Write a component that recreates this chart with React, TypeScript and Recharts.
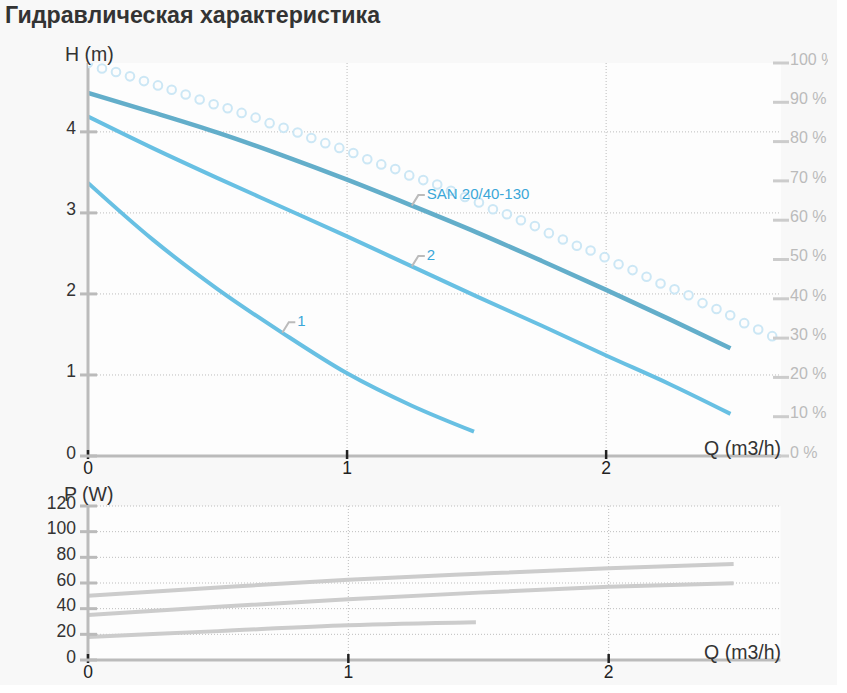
import React from 'react';
import { LineChart, Line, XAxis, YAxis, CartesianGrid, ReferenceDot } from 'recharts';

const FONT = '"Liberation Sans", Arial, Helvetica, sans-serif';

// ---- Hydraulic curves H(Q) ----
const qCurve1 = [0, 0.25, 0.5, 0.75, 1.0, 1.25, 1.49];
const hCurve1 = [3.37, 2.67, 2.06, 1.52, 1.02, 0.62, 0.3];
const qCurve2 = [0, 0.25, 0.5, 0.75, 1.0, 1.25, 1.5, 1.75, 2.0, 2.25, 2.48];
const hCurve2 = [4.19, 3.8, 3.43, 3.07, 2.71, 2.34, 1.97, 1.61, 1.24, 0.88, 0.52];
const qSan = [0, 0.25, 0.5, 0.75, 1.0, 1.25, 1.5, 1.75, 2.0, 2.25, 2.48];
const hSan = [4.48, 4.24, 3.99, 3.71, 3.41, 3.09, 2.76, 2.41, 2.05, 1.68, 1.33];

// ---- Efficiency (%) ----
const qEff = [
  0, 0.054, 0.108, 0.162, 0.216, 0.27, 0.323, 0.377, 0.431, 0.485,
  0.539, 0.593, 0.647, 0.701, 0.755, 0.809, 0.862, 0.916, 0.97, 1.024,
  1.078, 1.132, 1.186, 1.24, 1.294, 1.348, 1.401, 1.455, 1.509, 1.563,
  1.617, 1.671, 1.725, 1.779, 1.833, 1.887, 1.94, 1.994, 2.048, 2.102,
  2.156, 2.21, 2.264, 2.318, 2.372, 2.426, 2.479, 2.533, 2.587, 2.641,
];
const effValues = [
  100, 98.6, 97.7, 96.6, 95.4, 94.3, 93.2, 92.0, 90.7, 89.5,
  88.5, 87.3, 86.1, 84.7, 83.5, 82.3, 80.9, 79.6, 78.4, 77.1,
  75.5, 74.2, 73.0, 71.4, 70.2, 69.1, 67.5, 65.9, 64.5, 62.8,
  61.5, 60.0, 58.5, 56.7, 55.1, 53.5, 52.3, 50.6, 48.8, 47.3,
  45.6, 43.9, 42.4, 40.9, 38.9, 37.4, 35.8, 33.8, 32.2, 30.5,
];

// ---- Power P(Q) ----
const qPowerLong = [0, 0.5, 1.0, 1.5, 2.0, 2.48];
const pSan = [50, 56.5, 62.5, 67.2, 71.5, 74.8];
const pCurve2 = [35, 41.5, 47.3, 52.5, 57, 59.8];
const qPowerShort = [0, 0.5, 1.0, 1.49];
const pCurve1 = [18, 22.5, 27, 29.4];

// ---- Ticks / labels ----
const qTicks = [0, 1, 2];
const hTicks = [0, 1, 2, 3, 4];
const effTicks = [0, 10, 20, 30, 40, 50, 60, 70, 80, 90, 100];
const pTicks = [0, 20, 40, 60, 80, 100, 120];
const titleText = 'Гидравлическая характеристика';
const curveNames = ['SAN 20/40-130', '2', '1'];
const labelIndex = [5, 5, 3];

const zip = (qs: number[], vs: number[], key: string) => qs.map((q, i) => ({ q, [key]: vs[i] }));

const sanData = zip(qSan, hSan, 'h');
const c2Data = zip(qCurve2, hCurve2, 'h');
const c1Data = zip(qCurve1, hCurve1, 'h');
const effData = zip(qEff, effValues, 'e');
const pSanData = zip(qPowerLong, pSan, 'p');
const p2Data = zip(qPowerLong, pCurve2, 'p');
const p1Data = zip(qPowerShort, pCurve1, 'p');

const SAN_COLOR = '#63aeca';
const CURVE_COLOR = '#68c0e3';
const EFF_COLOR = '#cce7f5';
const POWER_COLOR = '#cccccc';
const GRID = '#bdbdbd';
const AXIS = '#bbbbbb';

const XTick = (props: any) => {
  const { x, y, payload } = props;
  return (
    <g>
      <line x1={x} y1={y - 6} x2={x} y2={y + 3} stroke="#222" strokeWidth={2.5} />
      <text x={x} y={y + 17.5} textAnchor="middle" fontSize={17.5} fill="#222" fontFamily={FONT}>
        {payload.value}
      </text>
    </g>
  );
};

const LeftTick = (props: any) => {
  const { x, y, payload } = props;
  return (
    <g>
      <line x1={x - 8} y1={y} x2={x + 9} y2={y} stroke={AXIS} strokeWidth={3} />
      <text x={x - 12} y={y + 2.5} textAnchor="end" fontSize={17.5} fill="#333" fontFamily={FONT}>
        {payload.value}
      </text>
    </g>
  );
};

const RightTick = (props: any) => {
  const { x, y, payload } = props;
  return (
    <g>
      <line x1={x - 8} y1={y} x2={x + 8} y2={y} stroke="#cccccc" strokeWidth={3} />
      <text x={x + 9} y={y + 1.7} textAnchor="start" fontSize={16} fill="#bbbbbb" fontFamily={FONT}>
        {`${payload.value} %`}
      </text>
    </g>
  );
};

const CurveTag = ({ cx, cy, text }: { cx: number; cy: number; text: string }) => (
  <g>
    <polyline
      points={`${cx},${cy} ${cx + 6.5},${cy - 10.5} ${cx + 13},${cy - 10.5}`}
      fill="none"
      stroke="#bbbbbb"
      strokeWidth={2}
    />
    <text x={cx + 15} y={cy - 6.5} fontSize={15} fill="#3ba7d8" fontFamily={FONT}>
      {text}
    </text>
  </g>
);

const W = 828;

export default function App() {
  return (
    <div
      style={{
        position: 'absolute',
        left: 0,
        top: 0,
        width: 837,
        height: 685,
        background: '#f8f8f8',
        overflow: 'hidden',
        fontFamily: FONT,
      }}
    >
      <div style={{ position: 'absolute', left: 0, top: 0 }}>
        <LineChart width={W} height={480} margin={{ top: 63, right: 0, bottom: 0, left: 0 }}>
          <CartesianGrid
            yAxisId="h"
            stroke={GRID}
            strokeDasharray="1 2"
            fill="#fdfdfd"
            horizontalValues={hTicks}
            verticalValues={qTicks}
          />
          <XAxis
            type="number"
            dataKey="q"
            domain={[0, 2.675]}
            ticks={qTicks}
            height={24}
            axisLine={{ stroke: AXIS, strokeWidth: 3 }}
            tickLine={false}
            tickSize={0}
            tickMargin={0}
            tick={<XTick />}
            allowDataOverflow
          />
          <YAxis
            yAxisId="h"
            type="number"
            domain={[0, 4.85]}
            ticks={hTicks}
            width={88}
            axisLine={{ stroke: AXIS, strokeWidth: 3 }}
            tickLine={false}
            tickSize={0}
            tickMargin={0}
            tick={<LeftTick />}
            allowDataOverflow
          />
          <YAxis
            yAxisId="e"
            orientation="right"
            type="number"
            domain={[0, 100]}
            ticks={effTicks}
            width={47}
            axisLine={false}
            tickLine={false}
            tickSize={0}
            tickMargin={0}
            tick={<RightTick />}
            allowDataOverflow
          />
          <Line
            yAxisId="e"
            data={effData}
            dataKey="e"
            stroke="none"
            dot={{ r: 4.3, stroke: EFF_COLOR, strokeWidth: 2, fill: '#fdfdfd' }}
            activeDot={false}
            isAnimationActive={false}
          />
          <Line
            yAxisId="h"
            data={c1Data}
            dataKey="h"
            type="monotone"
            stroke={CURVE_COLOR}
            strokeWidth={4}
            dot={false}
            activeDot={false}
            isAnimationActive={false}
          />
          <Line
            yAxisId="h"
            data={c2Data}
            dataKey="h"
            type="monotone"
            stroke={CURVE_COLOR}
            strokeWidth={4}
            dot={false}
            activeDot={false}
            isAnimationActive={false}
          />
          <Line
            yAxisId="h"
            data={sanData}
            dataKey="h"
            type="monotone"
            stroke={SAN_COLOR}
            strokeWidth={4.5}
            dot={false}
            activeDot={false}
            isAnimationActive={false}
          />
          <ReferenceDot
            yAxisId="h"
            x={qSan[labelIndex[0]]}
            y={hSan[labelIndex[0]]}
            r={0}
            shape={(p: any) => <CurveTag cx={p.cx} cy={p.cy} text={curveNames[0]} />}
          />
          <ReferenceDot
            yAxisId="h"
            x={qCurve2[labelIndex[1]]}
            y={hCurve2[labelIndex[1]]}
            r={0}
            shape={(p: any) => <CurveTag cx={p.cx} cy={p.cy} text={curveNames[1]} />}
          />
          <ReferenceDot
            yAxisId="h"
            x={qCurve1[labelIndex[2]]}
            y={hCurve1[labelIndex[2]]}
            r={0}
            shape={(p: any) => <CurveTag cx={p.cx} cy={p.cy} text={curveNames[2]} />}
          />
        </LineChart>
      </div>

      <div style={{ position: 'absolute', left: 0, top: 480 }}>
        <LineChart width={W} height={205} margin={{ top: 26, right: 47.5, bottom: 0, left: 0 }}>
          <CartesianGrid
            stroke={GRID}
            strokeDasharray="1 2"
            fill="#fdfdfd"
            horizontalValues={pTicks}
            verticalValues={qTicks}
          />
          <XAxis
            type="number"
            dataKey="q"
            domain={[0, 2.66]}
            ticks={qTicks}
            height={25}
            axisLine={{ stroke: AXIS, strokeWidth: 3 }}
            tickLine={false}
            tickSize={0}
            tickMargin={0}
            tick={<XTick />}
            allowDataOverflow
          />
          <YAxis
            type="number"
            domain={[0, 120]}
            ticks={pTicks}
            width={88}
            axisLine={{ stroke: AXIS, strokeWidth: 3 }}
            tickLine={false}
            tickSize={0}
            tickMargin={0}
            tick={<LeftTick />}
            allowDataOverflow
          />
          <Line data={p1Data} dataKey="p" type="monotone" stroke={POWER_COLOR} strokeWidth={4} dot={false} activeDot={false} isAnimationActive={false} />
          <Line data={p2Data} dataKey="p" type="monotone" stroke={POWER_COLOR} strokeWidth={4} dot={false} activeDot={false} isAnimationActive={false} />
          <Line data={pSanData} dataKey="p" type="monotone" stroke={POWER_COLOR} strokeWidth={4} dot={false} activeDot={false} isAnimationActive={false} />
        </LineChart>
      </div>

      <svg
        width={837}
        height={685}
        style={{ position: 'absolute', left: 0, top: 0, pointerEvents: 'none' }}
      >
        <text x={5} y={22.5} fontSize={23.2} fontWeight="bold" fill="#333" fontFamily={FONT}>
          {titleText}
        </text>
        <text x={65} y={60.7} fontSize={19.5} fill="#333" fontFamily={FONT}>
          H (m)
        </text>
        <text x={781} y={454.5} fontSize={19.5} fill="#333" textAnchor="end" fontFamily={FONT}>
          Q (m3/h)
        </text>
        <text x={64} y={501} fontSize={19.5} fill="#333" fontFamily={FONT}>
          P (W)
        </text>
        <text x={781} y={659} fontSize={19.5} fill="#333" textAnchor="end" fontFamily={FONT}>
          Q (m3/h)
        </text>
      </svg>
    </div>
  );
}
